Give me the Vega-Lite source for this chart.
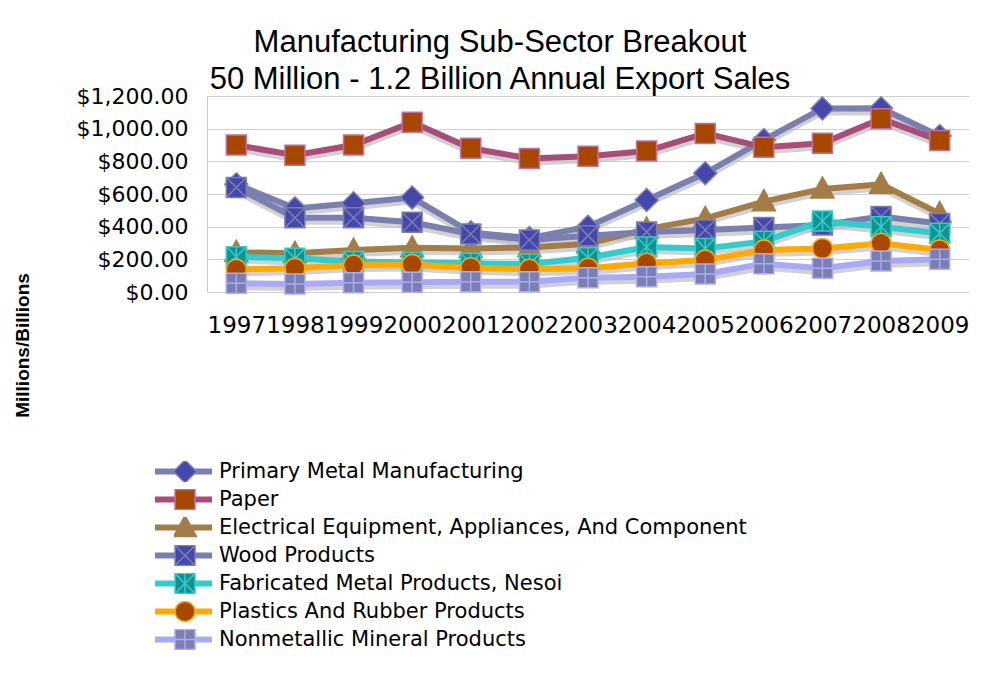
{
  "$schema": "https://vega.github.io/schema/vega-lite/v6.json",
  "width": 762,
  "height": 196,
  "autosize": {"type": "none"},
  "padding": {"left": 207, "top": 96, "right": 24, "bottom": 383},
  "background": "white",
  "config": {"view": {"stroke": null}, "font": "DejaVu Sans"},
  "title": {
    "text": ["Manufacturing Sub-Sector Breakout", "50 Million - 1.2 Billion Annual Export Sales"],
    "font": "Liberation Sans",
    "fontSize": 31,
    "fontWeight": "normal",
    "color": "#000000",
    "anchor": "middle",
    "dx": -88,
    "offset": -11,
    "lineHeight": 37
  },
  "data": {
    "values": [
      {"series": "Primary Metal Manufacturing", "year": "1997", "value": 660},
      {"series": "Primary Metal Manufacturing", "year": "1998", "value": 512},
      {"series": "Primary Metal Manufacturing", "year": "1999", "value": 543},
      {"series": "Primary Metal Manufacturing", "year": "2000", "value": 578},
      {"series": "Primary Metal Manufacturing", "year": "2001", "value": 365},
      {"series": "Primary Metal Manufacturing", "year": "2002", "value": 330},
      {"series": "Primary Metal Manufacturing", "year": "2003", "value": 400},
      {"series": "Primary Metal Manufacturing", "year": "2004", "value": 563},
      {"series": "Primary Metal Manufacturing", "year": "2005", "value": 727},
      {"series": "Primary Metal Manufacturing", "year": "2006", "value": 931},
      {"series": "Primary Metal Manufacturing", "year": "2007", "value": 1124},
      {"series": "Primary Metal Manufacturing", "year": "2008", "value": 1125},
      {"series": "Primary Metal Manufacturing", "year": "2009", "value": 955},
      {"series": "Paper", "year": "1997", "value": 900},
      {"series": "Paper", "year": "1998", "value": 837},
      {"series": "Paper", "year": "1999", "value": 900},
      {"series": "Paper", "year": "2000", "value": 1039},
      {"series": "Paper", "year": "2001", "value": 880},
      {"series": "Paper", "year": "2002", "value": 818},
      {"series": "Paper", "year": "2003", "value": 831},
      {"series": "Paper", "year": "2004", "value": 863},
      {"series": "Paper", "year": "2005", "value": 971},
      {"series": "Paper", "year": "2006", "value": 886},
      {"series": "Paper", "year": "2007", "value": 910},
      {"series": "Paper", "year": "2008", "value": 1061},
      {"series": "Paper", "year": "2009", "value": 927},
      {"series": "Electrical Equipment, Appliances, And Component", "year": "1997", "value": 243},
      {"series": "Electrical Equipment, Appliances, And Component", "year": "1998", "value": 237},
      {"series": "Electrical Equipment, Appliances, And Component", "year": "1999", "value": 257},
      {"series": "Electrical Equipment, Appliances, And Component", "year": "2000", "value": 271},
      {"series": "Electrical Equipment, Appliances, And Component", "year": "2001", "value": 267},
      {"series": "Electrical Equipment, Appliances, And Component", "year": "2002", "value": 273},
      {"series": "Electrical Equipment, Appliances, And Component", "year": "2003", "value": 295},
      {"series": "Electrical Equipment, Appliances, And Component", "year": "2004", "value": 385},
      {"series": "Electrical Equipment, Appliances, And Component", "year": "2005", "value": 451},
      {"series": "Electrical Equipment, Appliances, And Component", "year": "2006", "value": 553},
      {"series": "Electrical Equipment, Appliances, And Component", "year": "2007", "value": 631},
      {"series": "Electrical Equipment, Appliances, And Component", "year": "2008", "value": 659},
      {"series": "Electrical Equipment, Appliances, And Component", "year": "2009", "value": 480},
      {"series": "Wood Products", "year": "1997", "value": 640},
      {"series": "Wood Products", "year": "1998", "value": 455},
      {"series": "Wood Products", "year": "1999", "value": 455},
      {"series": "Wood Products", "year": "2000", "value": 427},
      {"series": "Wood Products", "year": "2001", "value": 355},
      {"series": "Wood Products", "year": "2002", "value": 318},
      {"series": "Wood Products", "year": "2003", "value": 345},
      {"series": "Wood Products", "year": "2004", "value": 368},
      {"series": "Wood Products", "year": "2005", "value": 380},
      {"series": "Wood Products", "year": "2006", "value": 395},
      {"series": "Wood Products", "year": "2007", "value": 410},
      {"series": "Wood Products", "year": "2008", "value": 462},
      {"series": "Wood Products", "year": "2009", "value": 420},
      {"series": "Fabricated Metal Products, Nesoi", "year": "1997", "value": 216},
      {"series": "Fabricated Metal Products, Nesoi", "year": "1998", "value": 206},
      {"series": "Fabricated Metal Products, Nesoi", "year": "1999", "value": 186},
      {"series": "Fabricated Metal Products, Nesoi", "year": "2000", "value": 180},
      {"series": "Fabricated Metal Products, Nesoi", "year": "2001", "value": 176},
      {"series": "Fabricated Metal Products, Nesoi", "year": "2002", "value": 171},
      {"series": "Fabricated Metal Products, Nesoi", "year": "2003", "value": 210},
      {"series": "Fabricated Metal Products, Nesoi", "year": "2004", "value": 275},
      {"series": "Fabricated Metal Products, Nesoi", "year": "2005", "value": 267},
      {"series": "Fabricated Metal Products, Nesoi", "year": "2006", "value": 310},
      {"series": "Fabricated Metal Products, Nesoi", "year": "2007", "value": 435},
      {"series": "Fabricated Metal Products, Nesoi", "year": "2008", "value": 400},
      {"series": "Fabricated Metal Products, Nesoi", "year": "2009", "value": 360},
      {"series": "Plastics And Rubber Products", "year": "1997", "value": 139},
      {"series": "Plastics And Rubber Products", "year": "1998", "value": 145},
      {"series": "Plastics And Rubber Products", "year": "1999", "value": 165},
      {"series": "Plastics And Rubber Products", "year": "2000", "value": 169},
      {"series": "Plastics And Rubber Products", "year": "2001", "value": 149},
      {"series": "Plastics And Rubber Products", "year": "2002", "value": 139},
      {"series": "Plastics And Rubber Products", "year": "2003", "value": 145},
      {"series": "Plastics And Rubber Products", "year": "2004", "value": 176},
      {"series": "Plastics And Rubber Products", "year": "2005", "value": 196},
      {"series": "Plastics And Rubber Products", "year": "2006", "value": 257},
      {"series": "Plastics And Rubber Products", "year": "2007", "value": 267},
      {"series": "Plastics And Rubber Products", "year": "2008", "value": 298},
      {"series": "Plastics And Rubber Products", "year": "2009", "value": 257},
      {"series": "Nonmetallic Mineral Products", "year": "1997", "value": 53},
      {"series": "Nonmetallic Mineral Products", "year": "1998", "value": 49},
      {"series": "Nonmetallic Mineral Products", "year": "1999", "value": 57},
      {"series": "Nonmetallic Mineral Products", "year": "2000", "value": 59},
      {"series": "Nonmetallic Mineral Products", "year": "2001", "value": 63},
      {"series": "Nonmetallic Mineral Products", "year": "2002", "value": 63},
      {"series": "Nonmetallic Mineral Products", "year": "2003", "value": 88},
      {"series": "Nonmetallic Mineral Products", "year": "2004", "value": 94},
      {"series": "Nonmetallic Mineral Products", "year": "2005", "value": 110},
      {"series": "Nonmetallic Mineral Products", "year": "2006", "value": 173},
      {"series": "Nonmetallic Mineral Products", "year": "2007", "value": 145},
      {"series": "Nonmetallic Mineral Products", "year": "2008", "value": 190},
      {"series": "Nonmetallic Mineral Products", "year": "2009", "value": 200}
    ]
  },
  "encoding": {
    "x": {
      "field": "year",
      "type": "ordinal",
      "scale": {"type": "point", "padding": 0.5},
      "axis": {
        "title": null,
        "labelAngle": 0,
        "labelFont": "DejaVu Sans",
        "labelFontSize": 23,
        "labelColor": "#000000",
        "labelPadding": 22,
        "labelOverlap": false,
        "labelFlush": false,
        "ticks": false,
        "tickSize": 0,
        "domain": false,
        "grid": false
      }
    },
    "y": {
      "field": "value",
      "type": "quantitative",
      "scale": {"domain": [0, 1200], "nice": false, "zero": true},
      "axis": {
        "values": [0, 200, 400, 600, 800, 1000, 1200],
        "format": "$,.2f",
        "labelFont": "DejaVu Sans",
        "labelFontSize": 22,
        "labelColor": "#000000",
        "labelPadding": 19,
        "ticks": false,
        "tickSize": 0,
        "domain": true,
        "domainColor": "#c8c8c8",
        "grid": true,
        "gridColor": "#d0d0d0",
        "title": "Millions/Billions",
        "titleFont": "Liberation Sans",
        "titleFontSize": 19,
        "titleFontWeight": "bold",
        "titleColor": "#000000",
        "titleAngle": -90,
        "titleX": -185,
        "titleY": 249,
        "titleAlign": "center",
        "titleBaseline": "middle"
      }
    }
  },
  "layer": [
    {
      "mark": {"type": "line", "strokeWidth": 6, "stroke": "#bdbdbd", "opacity": 0.7, "yOffset": 4},
      "encoding": {"detail": {"field": "series"}}
    },
    {
      "mark": {"type": "line", "strokeWidth": 6},
      "encoding": {
        "color": {
          "field": "series",
          "sort": ["Primary Metal Manufacturing", "Paper", "Electrical Equipment, Appliances, And Component", "Wood Products", "Fabricated Metal Products, Nesoi", "Plastics And Rubber Products", "Nonmetallic Mineral Products"],
          "scale": {
            "range": ["#7b7fb0", "#a84c7a", "#a47c45", "#7b7fb0", "#33cccc", "#ffaa00", "#a9a9f8"]
          },
          "legend": {
            "orient": "none",
            "legendX": -55,
            "legendY": 365,
            "title": null,
            "symbolType": "M-1,0H1",
            "symbolSize": 3249,
            "symbolStrokeWidth": 6,
            "symbolFillColor": "transparent",
            "labelFont": "DejaVu Sans",
            "labelFontSize": 21,
            "labelColor": "#000000",
            "labelOffset": 4,
            "labelLimit": 900,
            "clipHeight": 21,
            "rowPadding": 6,
            "padding": 0
          }
        }
      }
    },
    {
      "mark": {"type": "point", "filled": true, "size": 400, "strokeWidth": 1.5, "opacity": 1},
      "encoding": {
        "shape": {
          "field": "series",
          "scale": {
            "domain": ["Primary Metal Manufacturing", "Paper", "Electrical Equipment, Appliances, And Component", "Wood Products", "Fabricated Metal Products, Nesoi", "Plastics And Rubber Products", "Nonmetallic Mineral Products"],
            "range": ["M0,-1.15L1.15,0L0,1.15L-1.15,0Z", "M-1,-1H1V1H-1Z", "M0,-1.2L1.15,0.9H-1.15Z", "M-1,-1H1V1H-1Z M-1,-1L1,1 M1,-1L-1,1", "M-1,-1H1V1H-1Z M-1,-1L1,1 M1,-1L-1,1 M0,-1V1", "circle", "M-1,-1H1V1H-1Z M0,-1V1 M-1,0H1"]
          },
          "legend": {
            "orient": "none",
            "legendX": -33,
            "legendY": 365,
            "title": null,
            "symbolSize": 400,
            "symbolStrokeWidth": 1.5,
            "symbolOpacity": 1,
            "labelFontSize": 21,
            "labelExpr": "''",
            "clipHeight": 21,
            "rowPadding": 6,
            "padding": 0
          }
        },
        "fill": {
          "field": "series",
          "scale": {
            "domain": ["Primary Metal Manufacturing", "Paper", "Electrical Equipment, Appliances, And Component", "Wood Products", "Fabricated Metal Products, Nesoi", "Plastics And Rubber Products", "Nonmetallic Mineral Products"],
            "range": ["#4547aa", "#a84800", "#a47c45", "#4547aa", "#13918f", "#a84800", "#7b7fb0"]
          },
          "legend": {
            "orient": "none",
            "legendX": -33,
            "legendY": 365,
            "title": null,
            "symbolSize": 400,
            "symbolStrokeWidth": 1.5,
            "symbolOpacity": 1,
            "labelFontSize": 21,
            "labelExpr": "''",
            "clipHeight": 21,
            "rowPadding": 6,
            "padding": 0
          }
        },
        "stroke": {
          "field": "series",
          "scale": {
            "domain": ["Primary Metal Manufacturing", "Paper", "Electrical Equipment, Appliances, And Component", "Wood Products", "Fabricated Metal Products, Nesoi", "Plastics And Rubber Products", "Nonmetallic Mineral Products"],
            "range": ["#7b7fb0", "#c0709a", "#a47c45", "#7b7fb0", "#33cccc", "#ffaa00", "#a9a9f8"]
          },
          "legend": {
            "orient": "none",
            "legendX": -33,
            "legendY": 365,
            "title": null,
            "symbolSize": 400,
            "symbolStrokeWidth": 1.5,
            "symbolOpacity": 1,
            "labelFontSize": 21,
            "labelExpr": "''",
            "clipHeight": 21,
            "rowPadding": 6,
            "padding": 0
          }
        }
      }
    }
  ]
}
